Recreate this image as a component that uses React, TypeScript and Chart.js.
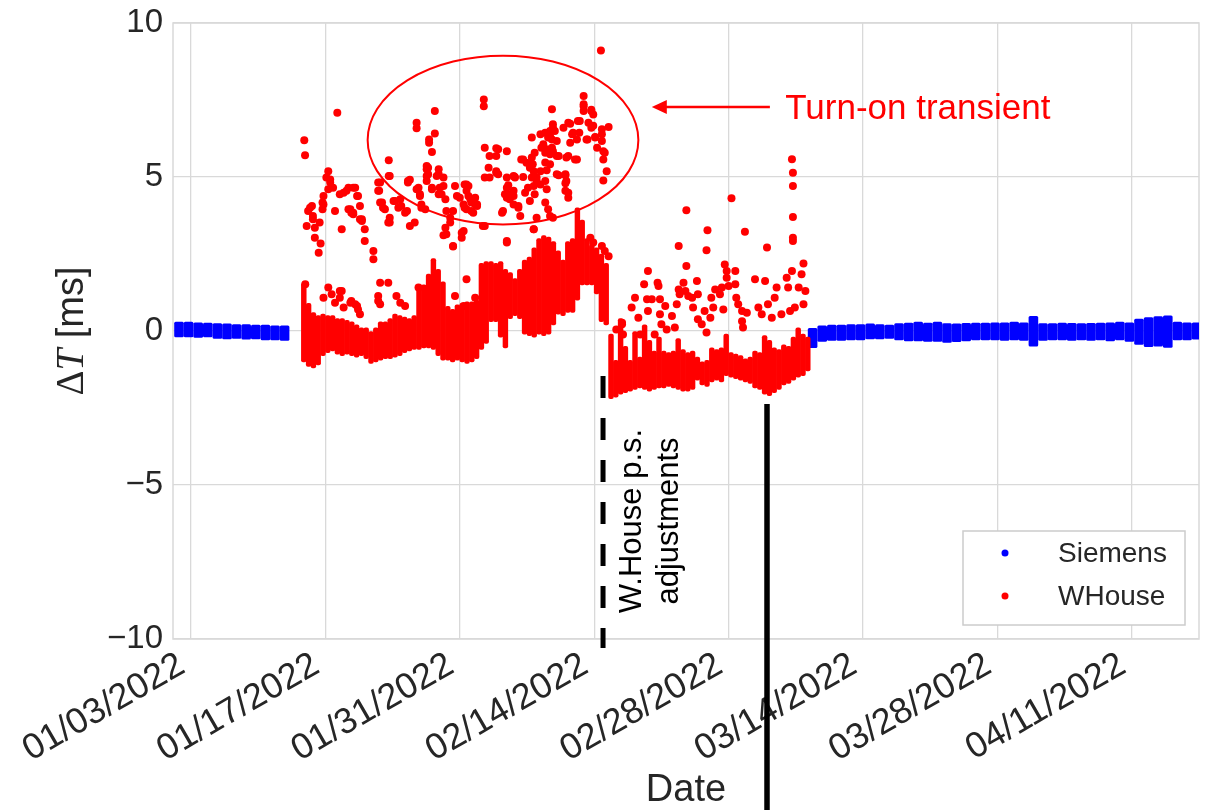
import React, { useEffect, useRef } from 'react';
import { Chart, registerables } from 'chart.js';

Chart.register(...registerables);

// x values are days counted from 01/03/2022
const tickDays = [0, 14, 28, 42, 56, 70, 84, 98];
const tickLabels = ['01/03/2022', '01/17/2022', '01/31/2022', '02/14/2022', '02/28/2022', '03/14/2022', '03/28/2022', '04/11/2022'];
const xMin = -1.875;
const xMax = 105;
const yTicks = [-10, -5, 0, 5, 10];

// [day, low, high] extent of the dense Siemens cloud (1-day bins)
const siemensBand: [number, number, number][] = [
  [-1.25, -0.2, 0.3], [-0.25, -0.2, 0.3], [0.75, -0.22, 0.28], [1.75, -0.2, 0.27], [2.75, -0.25, 0.25],
  [3.75, -0.27, 0.24], [4.75, -0.25, 0.22], [5.75, -0.28, 0.22], [6.75, -0.27, 0.2], [7.75, -0.3, 0.2],
  [8.75, -0.3, 0.18], [9.75, -0.32, 0.18],
  [64.75, -0.55, 0.1], [65.75, -0.35, 0.18], [66.75, -0.32, 0.2], [67.75, -0.32, 0.2], [68.75, -0.3, 0.22],
  [69.75, -0.3, 0.22], [70.75, -0.27, 0.24], [71.75, -0.27, 0.22], [72.75, -0.25, 0.2], [73.75, -0.3, 0.25],
  [74.75, -0.33, 0.27], [75.75, -0.33, 0.3], [76.75, -0.35, 0.27], [77.75, -0.35, 0.3], [78.75, -0.38, 0.25],
  [79.75, -0.36, 0.24], [80.75, -0.33, 0.26], [81.75, -0.3, 0.27], [82.75, -0.3, 0.27], [83.75, -0.3, 0.28],
  [84.75, -0.32, 0.28], [85.75, -0.3, 0.3], [86.75, -0.32, 0.28], [87.75, -0.5, 0.49], [88.75, -0.32, 0.25],
  [89.75, -0.3, 0.25], [90.75, -0.3, 0.27], [91.75, -0.32, 0.26], [92.75, -0.3, 0.25], [93.75, -0.32, 0.26],
  [94.75, -0.3, 0.27], [95.75, -0.33, 0.28], [96.75, -0.3, 0.3], [97.75, -0.35, 0.28], [98.75, -0.45, 0.4],
  [99.75, -0.52, 0.45], [100.75, -0.5, 0.48], [101.75, -0.54, 0.5], [102.75, -0.3, 0.3], [103.75, -0.3, 0.28],
  [104.75, -0.28, 0.28],
];

// [day, low, high] extent of the dense WHouse cloud (half-day bins)
const whouseBand: [number, number, number][] = [
  [11.75, -1.0, 1.55], [12.25, -1.15, 0.9], [12.75, -1.2, 0.6], [13.25, -1.1, 0.5], [13.75, -0.8, 0.55],
  [14.25, -0.7, 0.5], [14.75, -0.65, 0.5], [15.25, -0.75, 0.4], [15.75, -0.8, 0.4], [16.25, -0.75, 0.35],
  [16.75, -0.8, 0.3], [17.25, -0.85, 0.2], [17.75, -0.8, 0.1], [18.25, -0.9, 0.1], [18.75, -1.05, 0.0],
  [19.25, -1.0, 0.1], [19.75, -0.95, 0.3], [20.25, -0.9, 0.3], [20.75, -0.9, 0.4], [21.25, -0.85, 0.55],
  [21.75, -0.8, 0.5], [22.25, -0.7, 0.45], [22.75, -0.65, 0.4], [23.25, -0.6, 0.5], [23.75, -0.6, 1.4],
  [24.25, -0.55, 1.5], [24.75, -0.55, 1.85], [25.25, -0.6, 2.35], [25.75, -0.8, 2.0], [26.25, -0.95, 1.6],
  [26.75, -0.95, 0.8], [27.25, -1.0, 0.7], [27.75, -0.95, 0.85], [28.25, -1.0, 0.9], [28.75, -1.05, 0.95],
  [29.25, -1.0, 0.95], [29.75, -0.9, 1.0], [30.25, -0.6, 2.2], [30.75, -0.4, 2.25], [31.25, 0.3, 2.25],
  [31.75, 0.3, 2.2], [32.25, -0.2, 2.25], [32.75, -0.55, 2.0], [33.25, 0.4, 1.9], [33.75, 0.5, 1.7],
  [34.25, 0.4, 2.0], [34.75, -0.1, 2.3], [35.25, -0.15, 2.4], [35.75, -0.2, 2.7], [36.25, -0.1, 3.0],
  [36.75, -0.15, 3.1], [37.25, -0.1, 3.05], [37.75, 0.2, 2.9], [38.25, 0.55, 2.6], [38.75, 0.5, 2.3],
  [39.25, 0.6, 2.9], [39.75, 0.6, 3.0], [40.25, 1.0, 4.0], [40.75, 1.5, 3.6], [41.25, 1.5, 3.0],
  [41.75, 1.5, 2.8], [42.25, 1.2, 2.7], [42.75, 0.3, 2.5], [43.25, 0.2, 2.2],
  [43.75, -2.2, -0.1], [44.25, -2.15, -0.95], [44.75, -2.05, 0.4], [45.25, -2.0, -0.5], [45.75, -1.95, -0.95],
  [46.25, -1.9, 0.0], [46.75, -1.85, -0.85], [47.25, -1.9, 0.2], [47.75, -1.95, -0.3], [48.25, -1.9, -0.65],
  [48.75, -1.85, -0.2], [49.25, -1.85, -0.65], [49.75, -1.8, -0.7], [50.25, -1.85, -0.65], [50.75, -1.9, -0.25],
  [51.25, -1.95, -0.6], [51.75, -1.95, -0.7], [52.25, -1.9, -0.65], [52.75, -1.6, -0.85], [53.25, -1.75, -1.0],
  [53.75, -1.8, -0.95], [54.25, -1.65, -0.55], [54.75, -1.6, -0.6], [55.25, -1.65, -0.55], [55.75, -1.45, -0.1],
  [56.25, -1.5, -0.7], [56.75, -1.55, -0.75], [57.25, -1.6, -0.8], [57.75, -1.65, -0.9], [58.25, -1.7, -0.85],
  [58.75, -1.85, -0.65], [59.25, -1.9, -0.7], [59.75, -2.05, -0.15], [60.25, -2.1, -0.3], [60.75, -2.0, -0.55],
  [61.25, -1.9, -0.6], [61.75, -1.75, -0.45], [62.25, -1.7, -0.5], [62.75, -1.6, -0.2], [63.25, -1.5, 0.1],
  [63.75, -1.45, -0.1], [64.25, -1.3, -0.2],
];

// [day, value] individual WHouse points away from the dense cloud
const whouseScatter: [number, number][] = [
  [11.8, 6.19], [11.88, 5.71], [15.24, 7.09], [14.3, 5.19], [14.1, 4.98], [14.5, 4.82], [14.3, 4.6], [14.8, 4.65],
  [13.8, 4.38], [13.7, 4.17], [13.7, 3.95], [12.4, 4.0], [12.2, 3.9], [12.7, 3.73], [12.05, 3.41], [12.9, 3.35],
  [13.4, 3.52], [12.9, 3.03], [13.5, 2.84], [13.3, 2.54], [15.5, 4.44], [16.2, 4.55], [16.9, 4.65], [17.4, 4.38],
  [15.0, 3.9], [15.7, 3.3], [16.4, 3.95], [16.7, 3.84], [17.6, 4.06], [17.6, 3.63], [18.1, 3.3], [18.1, 2.92],
  [19.0, 2.6], [19.0, 2.33], [19.5, 4.82], [19.6, 4.55], [19.7, 4.17], [20.6, 5.54], [20.6, 5.03], [20.0, 4.0],
  [20.7, 3.52], [21.25, 4.22], [12.6, 4.06], [12.7, 3.63], [13.8, 4.11], [14.5, 4.92], [15.9, 4.49], [16.4, 4.65],
  [16.6, 3.95], [16.9, 3.79], [17.3, 4.38], [17.8, 3.63], [20.2, 3.95], [21.6, 4.0], [22.5, 3.9], [22.6, 4.87],
  [22.8, 3.41], [23.5, 4.6], [23.85, 4.38], [24.0, 4.0], [24.55, 5.36], [24.7, 5.09], [25.1, 4.65], [25.6, 5.03],
  [26.3, 4.71], [26.5, 4.28], [26.6, 3.9], [27.0, 3.52], [27.3, 2.76], [27.5, 4.71], [28.4, 4.11], [28.4, 3.25],
  [28.9, 4.71], [29.2, 4.17], [29.8, 4.11], [30.6, 4.98], [30.6, 3.41],
  [25.4, 7.14], [23.5, 6.76], [23.5, 6.58], [30.5, 7.52], [30.5, 7.3], [25.4, 6.41], [24.8, 6.22], [24.8, 6.11],
  [25.1, 5.81], [22.8, 4.91], [23.7, 4.65], [24.55, 5.25], [24.55, 5.03], [24.55, 4.87], [25.8, 5.09], [26.3, 4.98],
  [25.1, 4.6], [25.9, 4.65], [26.1, 4.44], [28.5, 4.76], [28.7, 4.55], [28.9, 4.38], [27.7, 4.38], [29.2, 4.28],
  [29.6, 4.11], [29.8, 4.06], [28.5, 4.0], [29.2, 3.9], [27.3, 3.9], [27.0, 3.68], [26.5, 3.35], [26.6, 3.14],
  [26.3, 3.11], [27.3, 2.74], [28.2, 3.19], [28.2, 3.03],
  [30.6, 5.95], [31.1, 5.68], [32.0, 5.9], [32.9, 5.84], [31.0, 5.3], [31.8, 5.19], [32.0, 5.09], [31.1, 4.98],
  [30.4, 3.41], [32.9, 4.98], [33.6, 5.03], [32.5, 3.9], [32.4, 3.84], [32.9, 4.65], [33.1, 4.44], [33.2, 4.28],
  [33.6, 4.11], [34.1, 4.0], [34.3, 3.73], [32.9, 2.87], [34.4, 5.57], [34.95, 5.46], [35.3, 5.3], [35.7, 5.19],
  [35.5, 6.28], [36.4, 6.39], [36.9, 6.44], [37.4, 6.33], [37.9, 6.49], [37.6, 6.22], [36.7, 6.06], [37.05, 5.9],
  [37.7, 5.84], [38.1, 5.68], [35.7, 5.03], [36.0, 4.87], [36.4, 4.76], [36.9, 4.87], [37.05, 4.6], [38.1, 5.09],
  [39.0, 5.09], [39.1, 4.87], [37.6, 7.2], [37.7, 6.71], [38.8, 6.6], [39.3, 6.76], [39.8, 6.44], [40.3, 6.82],
  [40.45, 6.44], [40.9, 7.63], [40.9, 7.3], [40.9, 7.14], [41.7, 7.14], [41.9, 7.03], [41.4, 6.76], [41.9, 6.66],
  [41.2, 6.22], [42.1, 6.28], [42.8, 6.55], [42.8, 6.39], [42.8, 6.17], [42.3, 5.95], [43.5, 6.62], [42.95, 5.84],
  [42.95, 5.57], [43.3, 5.19], [42.95, 4.89], [39.1, 5.63], [40.0, 5.57], [39.5, 6.11], [39.0, 4.55], [36.9, 4.17],
  [37.2, 3.95], [36.0, 3.68], [37.4, 3.73], [37.7, 3.68], [35.7, 3.3],
  [42.7, 9.11], [31.8, 5.93], [31.8, 5.68], [31.8, 5.14], [33.7, 5.01], [33.05, 4.73], [33.6, 4.55], [32.9, 4.33],
  [33.6, 4.38], [34.6, 5.57], [35.5, 5.63], [35.6, 5.41], [35.8, 5.79], [37.4, 6.49], [37.7, 6.6], [37.2, 6.28],
  [38.1, 6.17], [37.6, 5.95], [38.3, 5.68], [37.4, 5.74], [36.9, 5.79], [39.5, 6.73], [39.7, 6.39], [40.2, 6.22],
  [40.5, 6.82], [41.7, 6.6], [42.1, 6.3], [41.3, 6.22], [40.9, 7.36], [41.7, 7.18], [43.1, 5.79], [39.3, 5.68],
  [40.2, 5.57], [38.3, 5.06], [39.0, 5.06], [39.0, 4.8], [39.3, 4.49], [39.3, 4.33], [36.5, 5.95], [36.9, 5.47],
  [37.4, 5.41], [37.05, 5.22], [36.4, 5.19], [36.0, 4.98], [35.5, 4.98], [35.7, 4.71], [35.1, 4.65], [35.8, 4.44],
  [34.8, 4.49], [35.3, 4.22], [34.6, 5.0], [33.75, 4.98], [32.7, 4.44], [34.1, 4.06],
  [17.1, 4.65], [16.9, 3.84], [17.8, 3.57], [19.7, 4.82], [19.9, 4.17], [20.7, 3.68], [21.1, 4.22], [21.8, 4.28],
  [21.9, 4.06], [22.3, 3.84], [22.6, 4.82], [23.85, 4.44], [24.0, 4.11], [24.4, 3.95], [23.3, 3.52], [24.7, 5.3],
  [25.8, 5.25], [25.8, 4.44], [28.0, 4.33], [28.7, 4.76], [29.1, 4.28], [29.6, 4.33], [28.7, 3.95], [29.4, 3.84],
  [19.5, 4.55], [20.55, 3.52], [20.7, 5.03],
  [11.9, 1.52], [14.3, 1.41], [15.7, 1.3], [19.7, 1.57], [13.8, 1.08], [14.65, 1.19], [15.0, 0.92], [15.5, 1.3],
  [15.5, 1.08], [15.9, 0.76], [16.7, 0.97], [17.3, 0.81], [17.6, 0.54], [19.5, 1.14], [19.7, 0.87], [20.55, 1.57],
  [21.4, 1.14], [21.8, 0.92], [22.3, 0.81], [23.7, 1.41], [27.5, 1.14], [28.7, 1.68], [29.6, 1.08], [28.4, 0.81],
  [16.6, 0.92], [17.1, 0.87], [17.4, 0.7], [19.5, 0.97],
  [32.9, 2.92], [35.7, 3.3], [42.8, 2.76], [43.1, 2.6], [43.5, 2.43], [41.6, 3.03], [41.9, 2.87],
  [44.3, 0.05], [44.9, 0.22], [45.0, -0.11], [51.6, 3.92], [56.3, 4.31], [53.8, 3.27], [53.7, 2.62], [57.7, 3.22],
  [50.8, 2.76], [51.6, 2.11], [60.0, 2.71], [62.6, 5.58], [62.7, 5.14], [62.7, 4.71], [62.7, 3.7], [62.7, 3.03],
  [62.7, 2.92], [63.8, 2.19], [47.6, 1.95], [47.2, 1.52], [48.6, 1.57], [48.7, 1.46], [46.25, 1.08], [45.9, 0.76],
  [47.5, 1.03], [48.0, 1.03], [48.85, 1.03], [49.4, 0.81], [48.85, 0.54], [50.1, 0.49], [50.4, 0.11], [49.0, 0.22],
  [49.55, 0.05], [47.6, 0.65], [46.6, 0.43], [44.9, 0.27], [46.8, -0.11], [48.3, -0.11], [51.3, 1.57], [50.8, 1.35],
  [50.9, 1.19], [51.5, 1.3], [51.8, 1.14], [50.6, 0.87], [52.2, 1.08], [52.7, 1.62], [52.8, 1.19], [52.3, 0.76],
  [52.8, 0.38], [53.2, 0.22], [53.5, 0.65], [53.7, -0.05], [54.1, 0.43], [54.4, 0.76], [54.2, 1.08], [54.6, 1.35],
  [55.1, 1.19], [55.3, 1.41], [55.45, 0.7], [55.6, 2.16], [55.8, 1.95], [55.8, 1.73], [56.0, 1.46], [56.7, 1.95],
  [56.7, 1.52], [56.8, 1.08], [57.0, 0.87], [57.4, 0.65], [57.4, 0.32], [57.5, 0.11], [57.9, 0.59], [58.75, 1.68],
  [59.1, 0.76], [59.45, 0.54], [59.8, 1.62], [60.1, 0.87], [60.5, 0.43], [60.8, 1.08], [61.0, 1.41], [61.5, 0.54],
  [62.05, 1.73], [62.2, 1.41], [62.6, 1.95], [62.4, 0.65], [62.9, 0.76], [63.3, 1.41], [63.6, 1.84], [63.8, 0.87],
  [64.0, 1.3],
];

// annotations, in data units
const transientEllipse = { day: 32.5, value: 6.2, rDays: 14.1, rValue: 2.74 };
const transientArrow = { fromDay: 60.3, toDay: 48.0, value: 7.27 };
const transientLabel = { day: 61.9, value: 7.2, text: 'Turn-on transient' };
const adjustLine = { day: 42.92, from: -1.46, to: -10.29 };
const adjustLabel = { day: 47.9, value: -6.17, lines: ['W.House p.s.', 'adjustments'] };
const solidLine = { day: 60.0, from: -2.37 };

const textColor = '#262626';
const gridColor = '#d9d9d9';
const SANS = '"Liberation Sans", Arial, sans-serif';
const SERIF = '"Liberation Serif", "DejaVu Serif", serif';

const fmtY = (v: number) => (v < 0 ? '\u2212' + Math.abs(v) : String(v));

const decorPlugin = {
  id: 'decor',
  beforeDatasetsDraw(chart: any) {
    const { ctx, chartArea: ca } = chart;
    ctx.save();
    ctx.strokeStyle = gridColor;
    ctx.lineWidth = 1.5;
    ctx.strokeRect(ca.left, ca.top, ca.right - ca.left, ca.bottom - ca.top);
    ctx.restore();
  },
  afterDatasetsDraw(chart: any) {
    const { ctx, chartArea: ca } = chart;
    const xs = chart.scales.x;
    const ys = chart.scales.y;
    const px = (d: number) => xs.getPixelForValue(d);
    const py = (v: number) => ys.getPixelForValue(v);
    ctx.save();

    // ellipse
    const cx = px(transientEllipse.day);
    const cy = py(transientEllipse.value);
    const rx = px(transientEllipse.day + transientEllipse.rDays) - cx;
    const ry = cy - py(transientEllipse.value + transientEllipse.rValue);
    ctx.strokeStyle = '#ff0000';
    ctx.lineWidth = 2;
    ctx.beginPath();
    ctx.ellipse(cx, cy, rx, ry, 0, 0, Math.PI * 2);
    ctx.stroke();

    // arrow
    const ax0 = px(transientArrow.fromDay);
    const ax1 = px(transientArrow.toDay);
    const ay = py(transientArrow.value);
    ctx.lineWidth = 2.5;
    ctx.beginPath();
    ctx.moveTo(ax0, ay);
    ctx.lineTo(ax1 + 12, ay);
    ctx.stroke();
    ctx.fillStyle = '#ff0000';
    ctx.beginPath();
    ctx.moveTo(ax1, ay);
    ctx.lineTo(ax1 + 15, ay - 7);
    ctx.lineTo(ax1 + 15, ay + 7);
    ctx.closePath();
    ctx.fill();

    ctx.font = `35px ${SANS}`;
    ctx.textAlign = 'left';
    ctx.textBaseline = 'middle';
    ctx.fillText(transientLabel.text, px(transientLabel.day), py(transientLabel.value));

    // dashed line
    ctx.strokeStyle = '#000';
    ctx.lineWidth = 5;
    ctx.setLineDash([22, 20]);
    ctx.beginPath();
    ctx.moveTo(px(adjustLine.day), py(adjustLine.from));
    ctx.lineTo(px(adjustLine.day), py(adjustLine.to));
    ctx.stroke();
    ctx.setLineDash([]);

    // solid line
    ctx.lineWidth = 5.5;
    ctx.beginPath();
    ctx.moveTo(px(solidLine.day), py(solidLine.from));
    ctx.lineTo(px(solidLine.day), chart.height);
    ctx.stroke();

    // rotated annotation
    ctx.save();
    ctx.translate(px(adjustLabel.day), py(adjustLabel.value));
    ctx.rotate(-Math.PI / 2);
    ctx.fillStyle = '#000';
    ctx.font = `31px ${SANS}`;
    ctx.textAlign = 'center';
    ctx.textBaseline = 'middle';
    const n = adjustLabel.lines.length;
    adjustLabel.lines.forEach((t, i) => {
      ctx.fillText(t, 0, (i - (n - 1) / 2) * 37);
    });
    ctx.restore();

    // legend
    const lw = 222, lh = 94;
    const lx = ca.right - 14 - lw;
    const ly = ca.bottom - 14 - lh;
    ctx.fillStyle = '#ffffff';
    ctx.fillRect(lx, ly, lw, lh);
    ctx.strokeStyle = '#cccccc';
    ctx.lineWidth = 1.5;
    ctx.strokeRect(lx, ly, lw, lh);
    const entries = [chart.data.datasets[0], chart.data.datasets[1]];
    ctx.font = `28px ${SANS}`;
    ctx.textAlign = 'left';
    ctx.textBaseline = 'middle';
    entries.forEach((ds: any, i: number) => {
      const ey = ly + 22 + i * 43;
      ctx.fillStyle = ds.backgroundColor;
      ctx.beginPath();
      ctx.arc(lx + 42, ey, 3.5, 0, Math.PI * 2);
      ctx.fill();
      ctx.fillStyle = textColor;
      ctx.fillText(ds.label, lx + 95, ey + 1);
    });

    // y axis title: ΔT [ms]
    ctx.save();
    ctx.translate(73, (ca.top + ca.bottom) / 2);
    ctx.rotate(-Math.PI / 2);
    ctx.fillStyle = textColor;
    ctx.textBaseline = 'middle';
    ctx.textAlign = 'left';
    const parts = [
      { t: '\u0394', f: `39px ${SERIF}` },
      { t: 'T', f: `italic 39px ${SERIF}` },
      { t: ' [ms]', f: `38px ${SANS}` },
    ];
    let total = 0;
    parts.forEach((p) => { ctx.font = p.f; total += ctx.measureText(p.t).width; });
    let x = -total / 2;
    parts.forEach((p) => { ctx.font = p.f; ctx.fillText(p.t, x, 0); x += ctx.measureText(p.t).width; });
    ctx.restore();

    ctx.restore();
  },
};

export default function App() {
  const ref = useRef<HTMLCanvasElement | null>(null);
  useEffect(() => {
    if (!ref.current) return;
    const chart = new Chart(ref.current, {
      type: 'scatter',
      data: {
        datasets: [
          {
            type: 'bar',
            label: 'Siemens',
            data: siemensBand.map(([d, lo, hi]) => ({ x: d, y: [lo, hi] })),
            backgroundColor: '#0000ff',
            grouped: false,
            barPercentage: 2,
            categoryPercentage: 1,
            borderWidth: 0,
            borderSkipped: false,
            borderRadius: 1.5,
            order: 3,
          } as any,
          {
            type: 'bar',
            label: 'WHouse',
            data: whouseBand.map(([d, lo, hi]) => ({ x: d, y: [lo, hi] })),
            backgroundColor: '#ff0000',
            grouped: false,
            barPercentage: 1,
            categoryPercentage: 1,
            borderWidth: 0,
            borderSkipped: false,
            borderRadius: 2,
            order: 2,
          } as any,
          {
            type: 'scatter',
            label: 'WHouse',
            data: whouseScatter.map(([x, y]) => ({ x, y })),
            backgroundColor: '#ff0000',
            borderWidth: 0,
            pointRadius: 4,
            order: 1,
          } as any,
        ],
      },
      options: {
        animation: false,
        responsive: false,
        events: [],
        layout: { padding: { top: 23, right: 11, left: 0, bottom: 0 } },
        plugins: { legend: { display: false }, tooltip: { enabled: false } },
        scales: {
          x: {
            type: 'linear',
            min: xMin,
            max: xMax,
            offset: false,
            afterBuildTicks: (s: any) => { s.ticks = tickDays.map((v) => ({ value: v })); },
            afterFit: (s: any) => {
              s.height = 171;
              s.paddingLeft = 0; s.paddingRight = 0; s.paddingTop = 0; s.paddingBottom = 0;
            },
            grid: { color: gridColor, lineWidth: 1.3, drawTicks: false, offset: false },
            border: { display: false },
            ticks: {
              autoSkip: false,
              minRotation: 30,
              maxRotation: 30,
              padding: 8,
              labelOffset: -9,
              color: textColor,
              font: { family: SANS, size: 36, lineHeight: 1 },
              callback: (v: any) => tickLabels[tickDays.indexOf(Number(v))] ?? '',
            },
            title: {
              display: true,
              text: 'Date',
              color: textColor,
              font: { family: SANS, size: 38, lineHeight: 1 },
              padding: { top: 0, bottom: 0 },
            },
          },
          y: {
            type: 'linear',
            min: -10,
            max: 10,
            afterBuildTicks: (s: any) => { s.ticks = yTicks.map((v) => ({ value: v })); },
            afterFit: (s: any) => {
              s.width = 173;
              s.paddingLeft = 0; s.paddingRight = 0; s.paddingTop = 0; s.paddingBottom = 0;
            },
            grid: { color: gridColor, lineWidth: 1.3, drawTicks: false },
            border: { display: false },
            ticks: {
              padding: 10,
              color: textColor,
              font: { family: SANS, size: 33 },
              callback: (v: any) => fmtY(Number(v)),
            },
          },
        },
      } as any,
      plugins: [decorPlugin],
    });
    return () => chart.destroy();
  }, []);

  return (
    <div style={{ position: 'fixed', left: 0, top: 0, width: 1210, height: 810, background: '#fff' }}>
      <canvas ref={ref} width={1210} height={810} style={{ display: 'block' }} />
    </div>
  );
}
